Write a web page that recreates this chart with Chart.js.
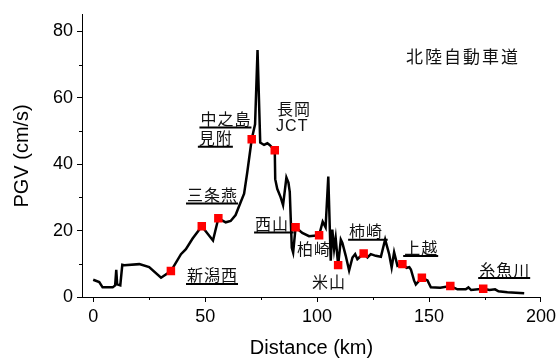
<!DOCTYPE html>
<html><head><meta charset="utf-8">
<script src="https://cdn.jsdelivr.net/npm/chart.js@4/dist/chart.umd.min.js"></script>
<style>html,body{margin:0;padding:0;background:#fff}</style>
</head><body>
<canvas id="c" width="560" height="360"></canvas>
<script>
// Distance (km) and PGV (cm/s) along the route
const distance = [0,2.7,4.2,8.7,9.8,10.3,10.7,12.1,13.0,13.9,20.6,25.0,30.3,34.7,39.2,41.4,44.4,48.5,53.5,55.9,59.2,61.4,63.6,65.9,67.4,68.8,70.8,72.3,73.4,74.6,76.3,77.8,78.8,81.1,81.3,82.2,83.7,84.8,86.3,87.2,87.8,88.7,89.3,90.4,93.4,96.4,100.9,102.5,103.8,105.0,106.1,106.8,107.6,108.3,109.4,110.6,111.3,112.8,114.3,115.8,117.0,118.0,118.8,120.8,122.5,124.0,126.2,128.5,130.4,132.2,133.3,134.4,135.9,138.1,140.0,141.2,141.9,143.3,144.1,146.8,149.3,150.8,155.0,159.5,162.7,166.4,167.6,168.8,174.2,177.0,179.5,181.0,185.0,192.5];
const pgv      = [5.2,4.5,2.9,2.9,3.5,8.2,3.8,3.5,9.7,9.6,9.9,9.0,5.8,7.8,12.9,14.4,17.6,21.3,17.0,23.7,22.5,22.9,24.7,28.6,31.1,37.5,47.5,52.0,74.4,46.5,45.8,46.3,45.8,44.2,35.5,32.6,30.1,27.7,36.0,34.5,31.6,14.8,13.4,21.0,19.3,18.3,18.6,22.7,21.0,36.3,10.9,20.3,14.4,17.8,9.6,17.3,16.3,12.4,8.0,11.9,12.9,11.4,11.9,13.1,11.9,12.9,12.4,12.1,17.3,12.9,8.9,13.5,9.4,9.9,8.8,9.0,8.3,5.0,3.8,5.8,5.0,2.9,2.8,3.3,2.3,2.3,2.9,2.1,2.5,2.1,2.3,1.7,1.4,1.1];

// Stations (red squares)
const stationDistance = [34.7,48.5,55.9,70.8,81.1,90.4,100.9,109.4,120.8,138.1,146.8,159.5,174.2];
const stationPgv      = [7.8,21.3,23.7,47.5,44.2,21.0,18.6,9.6,13.1,9.9,5.8,3.3,2.5];

// Text labels (anchored in data units: left edge, vertical centre)
const labelTexts     = ["北陸自動車道","中之島","見附","長岡","JCT","三条燕","新潟西","西山 ","柏崎","米山","柿崎 ","上越","糸魚川"];
const labelX         = [139.7,47.9,47.2,82.1,81.7,41.9,41.9,72.3,91.0,97.7,114.3,138.9,172.4];
const labelY         = [72.3,53.6,47.8,56.5,51.2,30.7,6.5,22.0,14.6,4.6,19.8,14.9,8.3];
const labelUnderline = [false,true,true,false,false,true,true,true,false,false,true,true,true];

const xTickValues = [0,50,100,150,200];
const yTickValues = [0,20,40,60,80];
const xMinorTicks = [25,75,125,175];
const yMinorTicks = [10,30,50,70];

const lineData = distance.map((d,i)=>({x:d,y:pgv[i]}));
const stationData = stationDistance.map((d,i)=>({x:d,y:stationPgv[i]}));

const labelPlugin = {
  id:'labels',
  afterDatasetsDraw(chart){
    const {ctx, scales:{x, y}} = chart;
    ctx.save();
    ctx.textAlign='left';
    ctx.textBaseline='middle';
    ctx.fillStyle='#111';
    ctx.strokeStyle='#000';
    labelTexts.forEach((t,i)=>{
      const px = x.getPixelForValue(labelX[i]);
      const py = y.getPixelForValue(labelY[i]);
      const isLatin = /^[A-Za-z]+$/.test(t);
      if (i===0){ ctx.font='17px "Noto Sans CJK JP"'; ctx.letterSpacing='2px'; }
      else if (isLatin){ ctx.font='16px "Liberation Sans"'; ctx.letterSpacing='1px'; }
      else { ctx.font='16px "Noto Sans CJK JP"'; ctx.letterSpacing='1px'; }
      ctx.fillText(t, px, py);
      if (labelUnderline[i]){
        const w = ctx.measureText(t).width;
        ctx.lineWidth=2;
        ctx.beginPath();
        ctx.moveTo(px-1, py+8.5);
        ctx.lineTo(px+w, py+8.5);
        ctx.stroke();
      }
    });
    ctx.restore();
  }
};

const minorPlugin = {
  id:'minor',
  afterDraw(chart){
    const {ctx, scales:{x, y}} = chart;
    ctx.save();
    ctx.strokeStyle='#000';
    ctx.lineWidth=1;
    ctx.beginPath();
    xMinorTicks.forEach(v=>{
      const px = Math.round(x.getPixelForValue(v))+0.5;
      ctx.moveTo(px, y.bottom); ctx.lineTo(px, y.bottom+3);
    });
    yMinorTicks.forEach(v=>{
      const py = Math.round(y.getPixelForValue(v))+0.5;
      ctx.moveTo(x.left, py); ctx.lineTo(x.left-3, py);
    });
    ctx.stroke();
    ctx.restore();
  }
};

Chart.defaults.font.family = '"Liberation Sans", Arial, sans-serif';
Chart.defaults.color = '#000';

new Chart(document.getElementById('c'), {
  type:'scatter',
  data:{datasets:[
    {data:stationData, showLine:false, pointStyle:'rect', pointRadius:6, pointBackgroundColor:'#ff0000', pointBorderWidth:0, borderColor:'#ff0000', order:0},
    {data:lineData, showLine:true, borderColor:'#000', borderWidth:2.5, pointRadius:0, tension:0, order:1}
  ]},
  options:{
    responsive:false, animation:false, devicePixelRatio:1,
    layout:{padding:{left:0,right:18,top:8,bottom:0}},
    plugins:{legend:{display:false}, tooltip:{enabled:false}},
    scales:{
      x:{type:'linear', min:-5, max:200,
        afterBuildTicks(s){ s.ticks = xTickValues.map(v=>({value:v})); },
        afterFit(s){ s.height = 63; },
        grid:{drawOnChartArea:false, drawTicks:true, tickLength:5, color:'#000', tickColor:'#000'},
        border:{color:'#000', width:1},
        ticks:{font:{size:18}, padding:4, maxRotation:0, color:'#000'},
        title:{display:true, text:'Distance (km)', font:{size:20}, padding:{top:0,bottom:0}, color:'#000'}
      },
      y:{type:'linear', min:0, max:85,
        afterBuildTicks(s){ s.ticks = yTickValues.map(v=>({value:v})); },
        afterFit(s){ s.width = 82; },
        grid:{drawOnChartArea:false, drawTicks:true, tickLength:5, color:'#000', tickColor:'#000'},
        border:{color:'#000', width:1},
        ticks:{font:{size:18}, padding:4, color:'#000'},
        title:{display:true, text:'PGV (cm/s)', font:{size:20}, padding:{top:10,bottom:0}, color:'#000'}
      }
    }
  },
  plugins:[labelPlugin, minorPlugin]
});
</script>
</body></html>
